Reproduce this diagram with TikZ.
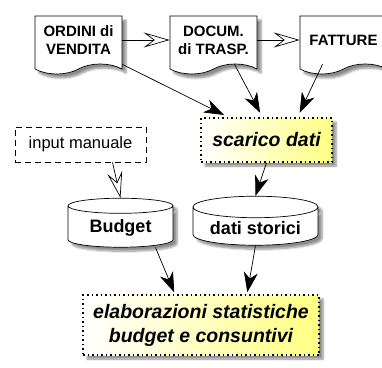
\documentclass[tikz,border=0pt]{standalone}
\usepackage{fontspec}
\setmainfont{Liberation Sans}
\usepackage{tikz}
\usetikzlibrary{shapes.symbols}
\usetikzlibrary{shapes.geometric}
\usetikzlibrary{arrows.meta}
\usetikzlibrary{shadows.blur}

\definecolor{giallo}{RGB}{255,255,130}

\tikzset{
  ombra/.style={blur shadow={shadow xshift=4pt, shadow yshift=-4pt, shadow blur steps=6, shadow opacity=45}},
  documento/.style={tape, tape bend top=none, tape bend height=10pt, draw, fill=white, ombra,
    line width=0.7pt, minimum width=87pt, minimum height=58pt, align=center,
    font=\bfseries\fontsize{15}{18}\selectfont},
  processo/.style={rectangle, draw, line width=1.5pt, dash pattern=on 1.5pt off 3pt,
    left color=white, right color=giallo, ombra, align=center,
    font=\bfseries\itshape\fontsize{19.5}{24}\selectfont},
  archivio/.style={cylinder, shape border rotate=90, draw, fill=white, ombra, line width=0.7pt,
    aspect=0.22, font=\bfseries\fontsize{18}{21}\selectfont},
  manuale/.style={rectangle, draw, line width=0.7pt, dash pattern=on 6pt off 4pt,
    font=\fontsize{16.5}{19}\selectfont},
  flusso/.style={line width=0.7pt, -{Stealth[length=20pt, width=14pt, inset=6pt]}},
  passa/.style={line width=0.7pt, -{Stealth[open, fill=white, length=26pt, width=15pt, inset=10pt]}}
}

\begin{document}
\begin{tikzpicture}[x=1pt, y=-1pt]
  \useasboundingbox (0,0) rectangle (382,367);

  % documenti
  \node[documento] (ordini) at (78.5,40) {ORDINI di\\VENDITA};
  \node[documento] (docum) at (213.5,40) {DOCUM.\\di TRASP.};
  \node[documento] (fatture) at (343.5,40) {FATTURE};

  \node[processo, minimum width=131pt, minimum height=44pt] (scarico) at (266.5,140) {scarico dati};
  \node[manuale, minimum width=131pt, minimum height=35pt] (input) at (80.5,144.5) {input manuale};

  % archivi
  \node[archivio, minimum width=105pt, minimum height=49pt] (budget) at (120.5,228) {Budget};
  \node[archivio, minimum width=125pt, minimum height=49pt] (storici) at (255.5,228) {dati storici};

  \node[processo, minimum width=236pt, minimum height=60pt] (elab) at (201,325)
    {elaborazioni statistiche\\budget e consuntivi};

  \draw[passa] (ordini.east) -- (docum.west);
  \draw[passa] (docum.east) -- (fatture.west);
  \draw[flusso, shorten >=5pt] (ordini.south east) -- ([xshift=-38pt]scarico.north);
  \draw[flusso, shorten >=5pt] ([xshift=21pt]docum.south) -- ([xshift=-4pt]scarico.north);
  \draw[flusso, shorten >=5pt] ([xshift=-21pt]fatture.south) -- ([xshift=31pt]scarico.north);
  \draw[passa] ([xshift=32pt]input.south) -- (budget.north);
  \draw[flusso] (scarico.south) -- (storici.north);
  \draw[flusso, shorten >=2pt] ([xshift=35pt]budget.south) -- ([xshift=-26pt]elab.north);
  \draw[flusso, shorten >=2pt] (storici.south) -- ([xshift=46pt]elab.north);
\end{tikzpicture}
\end{document}
